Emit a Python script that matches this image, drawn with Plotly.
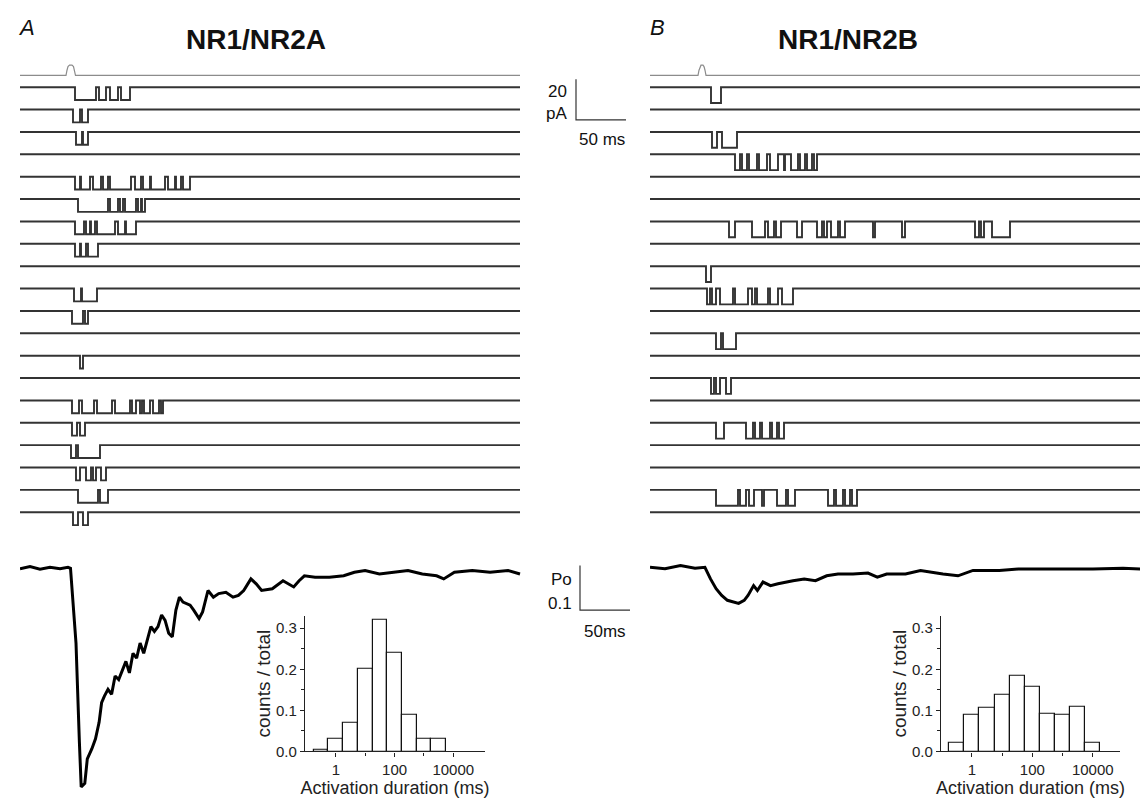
import plotly.graph_objects as go

W, H = 1148, 798

# ---------------- data ----------------
sweep_len_ms = 500

# stimulus marker above the sweeps (ms, arbitrary units in pA of the sweep axis)
stim_t_a = [0, 46, 47, 48, 49.5, 52, 53.5, 54.5, 55.5, 500]
stim_t_b = [0, 48, 49, 50, 51, 53, 54, 55, 56, 500]
stim_v = [0, 0, 2.5, 4.3, 5, 5, 4.3, 2.5, 0, 0]

# unitary current amplitude (pA)
amp_a = 6.3
amp_b = 7.8

# openings (start ms, end ms) for each sweep, top to bottom
open_a = [
    [(55, 76), (79, 86), (90, 98), (101, 110)],
    [(53, 60), (62, 68)],
    [(56, 62), (63, 68)],
    [],
    [(55, 60), (61, 70), (73, 81), (83, 88), (90, 111), (115, 121), (123, 130),
     (131, 145), (148, 155), (156, 161), (163, 170)],
    [(58, 88), (90, 98), (100, 103), (105, 116), (118, 121), (122, 125)],
    [(55, 64), (66, 70), (71, 75), (77, 95), (98, 105), (106, 116)],
    [(55, 60), (61, 66), (68, 78)],
    [],
    [(54, 61), (62, 77)],
    [(52, 63), (65, 68)],
    [],
    [(60, 63)],
    [],
    [(52, 59), (62, 74), (77, 92), (95, 110), (112, 116), (120, 122), (124, 130),
     (133, 139), (141, 143)],
    [(52, 57), (60, 65)],
    [(51, 56), (58, 80)],
    [(56, 60), (66, 71), (73, 76), (81, 86)],
    [(58, 78), (80, 88)],
    [(53, 58), (63, 68)],
]

open_b = [
    [(61, 71)],
    [],
    [(62, 67), (72, 87)],
    [(85, 90), (92, 97), (99, 107), (109, 117), (120, 128), (134, 135), (141, 148),
     (150, 155), (157, 162), (164, 167)],
    [],
    [],
    [(79, 85), (102, 115), (118, 124), (126, 131), (147, 152), (167, 172), (174, 177),
     (181, 188), (190, 195), (223, 225), (252, 255), (325, 329), (331, 334), (342, 360)],
    [],
    [(56, 61)],
    [(57, 60), (62, 66), (70, 83), (85, 98), (102, 105), (107, 118), (120, 128), (132, 143)],
    [],
    [(66, 71), (73, 86)],
    [],
    [(61, 64), (66, 70), (76, 81)],
    [],
    [(66, 74), (96, 103), (105, 110), (112, 120), (122, 127), (129, 134)],
    [],
    [],
    [(66, 88), (90, 96), (99, 104), (112, 114), (127, 136), (138, 145), (178, 184),
     (186, 193), (195, 200), (202, 207)],
    [],
]

# ensemble open probability
po_a_t = [0, 10, 20, 30, 40, 48, 50.5, 56, 59.4, 61.2, 64.8, 67.3, 71.9, 75.5, 79.1, 81.6,
          84.4, 88, 91.6, 95.1, 98.7, 102.3, 105.9, 109.4, 113, 116.6, 120.1, 123.7, 127.3,
          130.9, 134.4, 138, 141.6, 145.1, 148.7, 152.3, 155.9, 159.4, 163, 170.1, 173.7,
          179.1, 182.6, 188, 193.4, 198.7, 205.9, 213, 218.4, 223.7, 230.9, 236.2, 241.6,
          252.3, 263, 273.7, 279.1, 284.4, 295.1, 309.4, 323.7, 334.4, 345.1, 359.4, 373.7,
          388, 402.3, 416.6, 423.7, 434.4, 452.3, 470.1, 488, 500]
po_a = [0.003, -0.002, 0.004, 0.0, 0.003, 0.0, 0.002, 0.170, 0.393, 0.493, 0.485, 0.430,
        0.407, 0.385, 0.348, 0.304, 0.289, 0.274, 0.285, 0.244, 0.252, 0.230, 0.211, 0.237,
        0.193, 0.204, 0.170, 0.193, 0.163, 0.133, 0.144, 0.133, 0.107, 0.119, 0.148, 0.156,
        0.096, 0.067, 0.078, 0.085, 0.096, 0.115, 0.100, 0.052, 0.067, 0.059, 0.056, 0.067,
        0.063, 0.052, 0.026, 0.037, 0.052, 0.048, 0.030, 0.044, 0.030, 0.019, 0.022, 0.022,
        0.019, 0.011, 0.007, 0.015, 0.011, 0.007, 0.015, 0.019, 0.026, 0.011, 0.007, 0.011,
        0.007, 0.015]

po_b_t = [0, 15, 30.5, 45, 54.9, 60.5, 66.1, 71.7, 77.4, 83, 88.6, 94.2, 98, 103.6, 107.4,
          113, 120.5, 128, 135.5, 143, 154.2, 165.5, 176.7, 188, 203, 218, 227.3, 236.7,
          255.5, 270.5, 293, 308, 323, 349.2, 368, 405.4, 443, 473, 500]
po_b = [0.0, 0.003, -0.004, 0.002, 0.0, 0.026, 0.048, 0.063, 0.074, 0.078, 0.081, 0.074,
        0.063, 0.041, 0.052, 0.033, 0.041, 0.037, 0.033, 0.030, 0.026, 0.030, 0.019, 0.015,
        0.015, 0.013, 0.022, 0.015, 0.015, 0.007, 0.015, 0.019, 0.007, 0.007, 0.004, 0.004,
        0.004, 0.002, 0.005]

# activation duration histograms (bin centres as log10 of ms, half-decade bins)
bins_log10_a = [-0.5, 0, 0.5, 1, 1.5, 2, 2.5, 3, 3.5]
hist_a = [0.003, 0.03, 0.07, 0.20, 0.32, 0.24, 0.09, 0.03, 0.03]
bins_log10_b = [-0.5, 0, 0.5, 1, 1.5, 2, 2.5, 3, 3.5, 4]
hist_b = [0.022, 0.088, 0.105, 0.138, 0.185, 0.158, 0.092, 0.088, 0.108, 0.02]

dur_tickvals = [0, 2, 4]
dur_ticktext = ["1", "100", "10000"]


# ---------------- helpers ----------------
def xd(a, b):
    return [a / W, b / W]


def yd(top, bottom):
    return [1 - bottom / H, 1 - top / H]


PX_PER_PA = 41 / 20.0
SWEEP_GAP = 22.6 / PX_PER_PA   # pA between sweeps
STIM_OFF = 12 / PX_PER_PA      # stimulus line above first sweep
PX_PER_PO = 450.0


def sweeps_xy(openings, amp):
    xs, ys = [], []
    for k, ops in enumerate(openings):
        o = -k * SWEEP_GAP
        xs.append(0)
        ys.append(o)
        for s, e in ops:
            xs += [s, s, e, e]
            ys += [o, o - amp, o - amp, o]
        xs += [sweep_len_ms, None]
        ys += [o, None]
    return xs, ys


fig = go.Figure()
trace_col = "#333333"

# --- single-channel sweeps
for ax, (stim_t, ops, amp) in zip(["", "2"], [(stim_t_a, open_a, amp_a), (stim_t_b, open_b, amp_b)]):
    fig.add_trace(go.Scatter(x=stim_t, y=[v + STIM_OFF for v in stim_v], mode="lines",
                             line=dict(color="#8c8c8c", width=1.2),
                             xaxis="x" + ax, yaxis="y" + ax, hoverinfo="skip"))
    sx, sy = sweeps_xy(ops, amp)
    fig.add_trace(go.Scatter(x=sx, y=sy, mode="lines", line=dict(color=trace_col, width=1.9),
                             xaxis="x" + ax, yaxis="y" + ax, hoverinfo="skip"))

# sweep scale bar: 20 pA / 50 ms
bar_top = 8 / PX_PER_PA
fig.add_trace(go.Scatter(x=[556, 556, 606], y=[bar_top, bar_top - 20, bar_top - 20],
                         mode="lines", line=dict(color="#333", width=1.2),
                         xaxis="x", yaxis="y", hoverinfo="skip"))

# --- Po traces
fig.add_trace(go.Scatter(x=po_a_t, y=po_a, mode="lines", line=dict(color="black", width=3),
                         xaxis="x3", yaxis="y3"))
fig.add_trace(go.Scatter(x=po_b_t, y=po_b, mode="lines", line=dict(color="black", width=3),
                         xaxis="x4", yaxis="y4"))
# Po scale bar: 0.1 / 50 ms
fig.add_trace(go.Scatter(x=[560, 560, 610], y=[-0.004, 0.096, 0.096], mode="lines",
                         line=dict(color="#333", width=1.2), xaxis="x3", yaxis="y3"))

# --- histograms
for ax, bins, vals in [("5", bins_log10_a, hist_a), ("6", bins_log10_b, hist_b)]:
    fig.add_trace(go.Bar(x=bins, y=vals, width=0.5, marker=dict(color="white",
                         line=dict(color="#111", width=1.2)), xaxis="x" + ax, yaxis="y" + ax))

font = "Liberation Sans, Arial, sans-serif"
hidden = dict(visible=False, showgrid=False, zeroline=False)

sweep_top = 30 / PX_PER_PA
sweep_bot = sweep_top - 480 / PX_PER_PA
po_rng = [(797 - 565) / PX_PER_PO, (545 - 565) / PX_PER_PO]

hist_x = dict(showline=True, linecolor="#222", linewidth=1.2, ticks="outside", ticklen=4,
              tickcolor="#222", tickvals=dur_tickvals, ticktext=dur_ticktext,
              minor=dict(ticks="outside", ticklen=3, tickvals=[1, 3], tickcolor="#222"),
              showgrid=False, zeroline=False, tickfont=dict(size=15, color="#222"),
              title=dict(text="Activation duration (ms)", font=dict(size=18, color="#222"),
                         standoff=0))
hist_y = dict(showline=True, linecolor="#222", linewidth=1.2, ticks="outside", ticklen=4,
              tickcolor="#222", range=[0, 0.33], tickvals=[0, 0.1, 0.2, 0.3],
              ticktext=["0.0", "0.1", "0.2", "0.3"],
              minor=dict(ticks="outside", ticklen=3, tickvals=[0.05, 0.15, 0.25], tickcolor="#222"),
              showgrid=False, zeroline=False, tickfont=dict(size=15, color="#222"),
              title=dict(text="counts / total", font=dict(size=19, color="#222"), standoff=0))

fig.update_layout(
    width=W, height=H, margin=dict(l=0, r=0, t=0, b=0),
    paper_bgcolor="white", plot_bgcolor="rgba(0,0,0,0)", showlegend=False,
    font=dict(family=font, color="#222"),
    xaxis=dict(domain=xd(12, 640), range=[0, 628], anchor="y", **hidden),
    yaxis=dict(domain=yd(50, 530), range=[sweep_bot, sweep_top], anchor="x", **hidden),
    xaxis2=dict(domain=xd(642, 1143), range=[0, 501], anchor="y2", **hidden),
    yaxis2=dict(domain=yd(50, 530), range=[sweep_bot, sweep_top], anchor="x2", **hidden),
    xaxis3=dict(domain=xd(12, 640), range=[0, 628], anchor="y3", **hidden),
    yaxis3=dict(domain=yd(545, 797), range=po_rng, anchor="x3", **hidden),
    xaxis4=dict(domain=xd(642, 1143), range=[0, 501], anchor="y4", **hidden),
    yaxis4=dict(domain=yd(545, 797), range=po_rng, anchor="x4", **hidden),
    xaxis5=dict(domain=xd(297, 477), range=[-1.05, 5.08], anchor="y5", **hist_x),
    yaxis5=dict(domain=yd(614, 751), anchor="x5", **hist_y),
    xaxis6=dict(domain=xd(933, 1112), range=[-1.02, 4.9], anchor="y6", **hist_x),
    yaxis6=dict(domain=yd(614, 751), anchor="x6", **hist_y),
    bargap=0,
)


def label(text, x, y, size=17, xanchor="center", bold=False, italic=False):
    if bold:
        text = "<b>" + text + "</b>"
    if italic:
        text = "<i>" + text + "</i>"
    fig.add_annotation(text=text, x=x / W, y=1 - y / H, xref="paper", yref="paper",
                       showarrow=False, xanchor=xanchor, yanchor="middle",
                       font=dict(size=size, family=font, color="#111"))


label("A", 8, 20, size=22, xanchor="left", italic=True)
label("B", 640, 20, size=22, xanchor="left", italic=True)
label("NR1/NR2A", 248, 32, size=28, bold=True)
label("NR1/NR2B", 840, 32, size=28, bold=True)

label("20", 561, 84, xanchor="right")
label("pA", 561, 107, xanchor="right")
label("50 ms", 594, 133)
label("Po", 566, 577, xanchor="right")
label("0.1", 566, 602, xanchor="right")
label("50ms", 597, 630)

fig.write_html("out.html")
